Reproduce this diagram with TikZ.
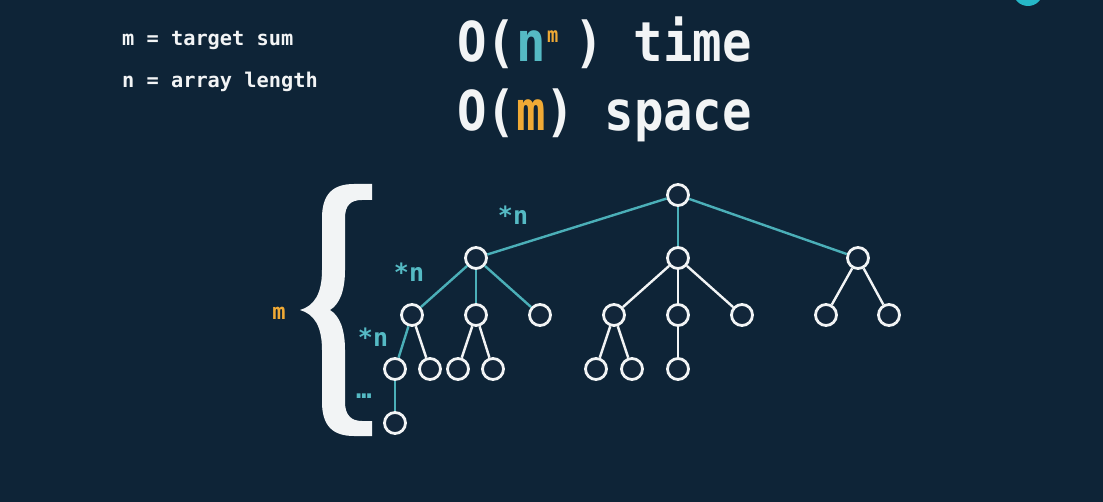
\documentclass[tikz,border=0pt]{standalone}
\usepackage{fontspec}
\newfontfamily\titlef[FakeStretch=0.89]{DejaVu Sans Mono}
\newfontfamily\smallf{DejaVu Sans Mono}
\definecolor{bgc}{HTML}{0E2437}
\definecolor{nodefill}{HTML}{12263A}
\definecolor{wht}{HTML}{F2F4F5}
\definecolor{tealln}{HTML}{4BAFB8}
\definecolor{tealtx}{HTML}{55BAC4}
\definecolor{orng}{HTML}{F0AA35}
\definecolor{cyanc}{HTML}{26B8C8}
\begin{document}
\begin{tikzpicture}[x=1pt,y=-1pt,
  nd/.style={circle,draw=wht,line width=2.8pt,fill=nodefill,minimum size=21pt,inner sep=0pt},
  te/.style={draw=tealln,line width=2.4pt},
  we/.style={draw=wht,line width=2.4pt},
  lbl/.style={inner sep=0pt,anchor=base,text=tealtx,font=\smallf\bfseries\fontsize{25}{25}\selectfont}]
\useasboundingbox (0,0) rectangle (1103,502);
\clip (0,0) rectangle (1103,502);
\fill[bgc] (0,0) rectangle (1103,502);
\fill[cyanc] (1028,-9) circle (15);

% legend
\node[anchor=base west,inner sep=0pt,text=wht] (d1) at (122,46)
  {\smallf\bfseries\fontsize{20.3}{20}\selectfont m = target sum};
\node[anchor=base west,inner sep=0pt,text=wht] (d2) at (122,88)
  {\smallf\bfseries\fontsize{20.3}{20}\selectfont n = array length};

% titles
\node[anchor=base west,inner sep=0pt,text=wht] (t1) at (457,62)
  {\titlef\bfseries\fontsize{55}{55}\selectfont O(\textcolor{tealtx}{n}\makebox[29.3pt][l]{\kern1.5pt\raisebox{19pt}{\fontsize{21}{21}\selectfont\textcolor{orng}{m}}}) time};
\node[anchor=base west,inner sep=0pt,text=wht] (t2) at (457,131)
  {\titlef\bfseries\fontsize{55}{55}\selectfont O(\textcolor{orng}{m}) space};

% brace
\fill[wht] (372,184) -- (354,184) .. controls (333,184) and (322,194) .. (322,218)
  -- (322,270) .. controls (322,294) and (314,306) .. (300,310)
  .. controls (314,314) and (322,326) .. (322,350)
  -- (322,402) .. controls (322,426) and (333,436) .. (354,436)
  -- (372,436) -- (372,421) -- (362,421) .. controls (351,421) and (345,415) .. (345,402)
  -- (345,350) .. controls (345,330) and (340,316) .. (330,310)
  .. controls (340,304) and (345,290) .. (345,270)
  -- (345,218) .. controls (345,205) and (351,200) .. (362,200) -- (372,200) -- cycle;

\node[inner sep=0pt,anchor=base,text=orng,font=\smallf\bfseries\fontsize{22}{22}\selectfont] (mlab) at (279,320) {m};

% tree nodes
\node[nd] (r) at (678,195) {};
\node[nd] (a) at (476,258) {};
\node[nd] (b) at (678,258) {};
\node[nd] (c) at (858,258) {};
\node[nd] (a1) at (412,315) {};
\node[nd] (a2) at (476,315) {};
\node[nd] (a3) at (540,315) {};
\node[nd] (b1) at (614,315) {};
\node[nd] (b2) at (678,315) {};
\node[nd] (b3) at (742,315) {};
\node[nd] (c1) at (826,315) {};
\node[nd] (c2) at (889,315) {};
\node[nd] (a1a) at (395,369) {};
\node[nd] (a1b) at (430,369) {};
\node[nd] (a2a) at (458,369) {};
\node[nd] (a2b) at (493,369) {};
\node[nd] (b1a) at (596,369) {};
\node[nd] (b1b) at (632,369) {};
\node[nd] (b2a) at (678,369) {};
\node[nd] (a1aa) at (395,423) {};

% edges
\draw[te] (r) -- (a);
\draw[te] (r) -- (b);
\draw[te] (r) -- (c);
\draw[te] (a) -- (a1);
\draw[te] (a) -- (a2);
\draw[te] (a) -- (a3);
\draw[te] (a1) -- (a1a);
\draw[we] (a1) -- (a1b);
\draw[we] (a2) -- (a2a);
\draw[we] (a2) -- (a2b);
\draw[te] (a1a) -- (a1aa);
\draw[we] (b) -- (b1);
\draw[we] (b) -- (b2);
\draw[we] (b) -- (b3);
\draw[we] (b1) -- (b1a);
\draw[we] (b1) -- (b1b);
\draw[we] (b2) -- (b2a);
\draw[we] (c) -- (c1);
\draw[we] (c) -- (c2);

% labels
\node[lbl] (n1) at (513,225) {*n};
\node[lbl] (n2) at (409,282) {*n};
\node[lbl] (n3) at (373,347) {*n};
\node[lbl,font=\smallf\bfseries\fontsize{26}{26}\selectfont] (dots) at (364,399) {…};
\end{tikzpicture}
\end{document}
